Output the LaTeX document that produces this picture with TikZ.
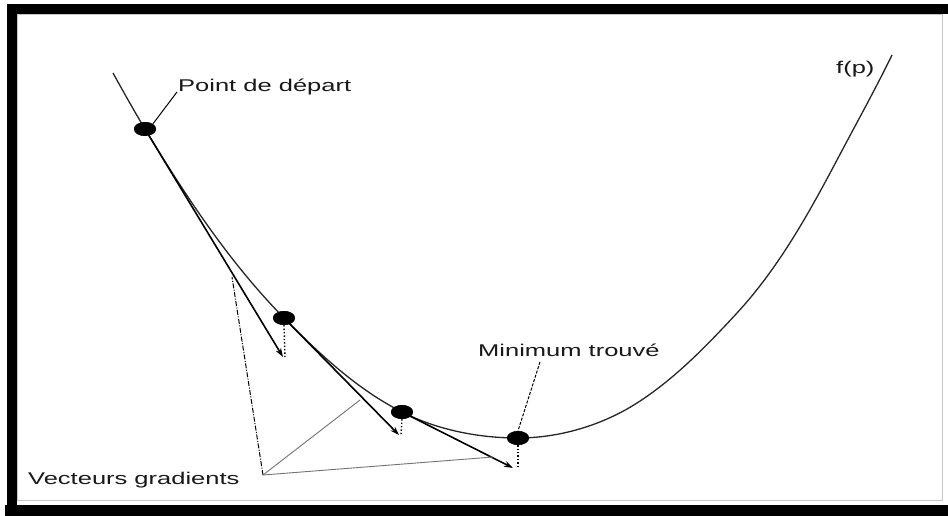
\documentclass[tikz,border=0pt]{standalone}
\usepackage{fontspec}
\setmainfont{Liberation Sans}
\usetikzlibrary{shapes.geometric,arrows.meta}
\begin{document}
\begin{tikzpicture}[x=1pt,y=-1pt,
  lbl/.style={inner sep=0pt, anchor=base west, text=black!90, font=\fontsize{17}{20}\selectfont},
  dotnode/.style={ellipse, fill=black, minimum width=22pt, minimum height=14pt, inner sep=0pt},
  grad/.style={line width=1.6pt, -{Stealth[length=9pt,width=6pt]}},
  proj/.style={line width=1.4pt, dotted},
  ptr/.style={line width=1pt},
  ]
\useasboundingbox (0,0) rectangle (948,516);
\fill[white] (0,0) rectangle (948,516);
% frame
\draw[gray!45, line width=0.8pt] (17,14) rectangle (942,500);
\fill[black] (7,4) rectangle (948,14);
\fill[black] (7,4) rectangle (17,516);
\fill[black] (5,505) rectangle (948,516);
% points
\coordinate (c0) at (113,73);
\coordinate (c5) at (637,403);
\coordinate (c6) at (737,313);
\coordinate (c7) at (837,160);
\coordinate (c8) at (892,55);
\coordinate (t1) at (283,357);
\coordinate (t2) at (399,435);
\coordinate (t3) at (513,468);
\coordinate (d1) at (285,358);
\coordinate (d2) at (401,435);
\coordinate (d3) at (518,468);
\node[dotnode] (p1) at (145,129) {};
\node[dotnode] (p2) at (284,318) {};
\node[dotnode] (p3) at (402,412) {};
\node[dotnode] (pm) at (518,438) {};
% curve f(p)
\draw[line width=1.3pt, black!85]
  (c0) .. controls (123.4,91.8) and (133.9,110.6) .. (p1.center)
       .. controls (185.5,195.9) and (229.2,262.2) .. (p2.center)
       .. controls (319.3,353.9) and (357.1,389.3) .. (p3.center)
       .. controls (437.4,429.9) and (478.4,438) .. (pm.center)
       .. controls (559.3,438) and (602.2,425.3) .. (c5)
       .. controls (674.7,378.9) and (706.6,345.9) .. (c6)
       .. controls (778.3,268.2) and (808.6,213.8) .. (c7)
       .. controls (855.4,125.1) and (874.7,90.5) .. (c8);
% redraw dots on top
\node[dotnode] at (p1) {};
\node[dotnode] at (p2) {};
\node[dotnode] at (p3) {};
\node[dotnode] at (pm) {};
% gradient arrows
\draw[grad] (p1.center) -- (t1);
\draw[grad] (p2.center) -- (t2);
\draw[grad] (p3.center) -- (t3);
% projections
\draw[proj] (p2.south) -- (d1);
\draw[proj] (p3.south) -- (d2);
\draw[proj] (pm.south) -- (d3);
% labels
\node[lbl] (lstart) at (178,92) {\scalebox{1.5}[1]{Point de départ}};
\node[lbl] (lmin) at (478,356) {\scalebox{1.5}[1]{Minimum trouvé}};
\node[lbl] (lvec) at (28,484) {\scalebox{1.5}[1]{Vecteurs gradients}};
\node[lbl] (lf) at (836,74) {\scalebox{1.5}[1]{f(p)}};
% pointers
\coordinate (s1) at (177,92);
\draw[ptr] (s1) -- (p1.north east);
\coordinate (m1) at (540,362);
\draw[ptr, dash pattern=on 3pt off 1.5pt] (m1) -- (pm.north);
\coordinate (v0) at (263,475);
\coordinate (va) at (232,277);
\coordinate (vb) at (360,400);
\coordinate (vc) at (493,457);
\draw[ptr, dash pattern=on 5pt off 1.5pt on 1pt off 1.5pt] (v0) -- (va);
\draw[line width=0.9pt, black!55] (v0) -- (vb);
\draw[line width=0.9pt, black!55] (v0) -- (vc);
\end{tikzpicture}
\end{document}
